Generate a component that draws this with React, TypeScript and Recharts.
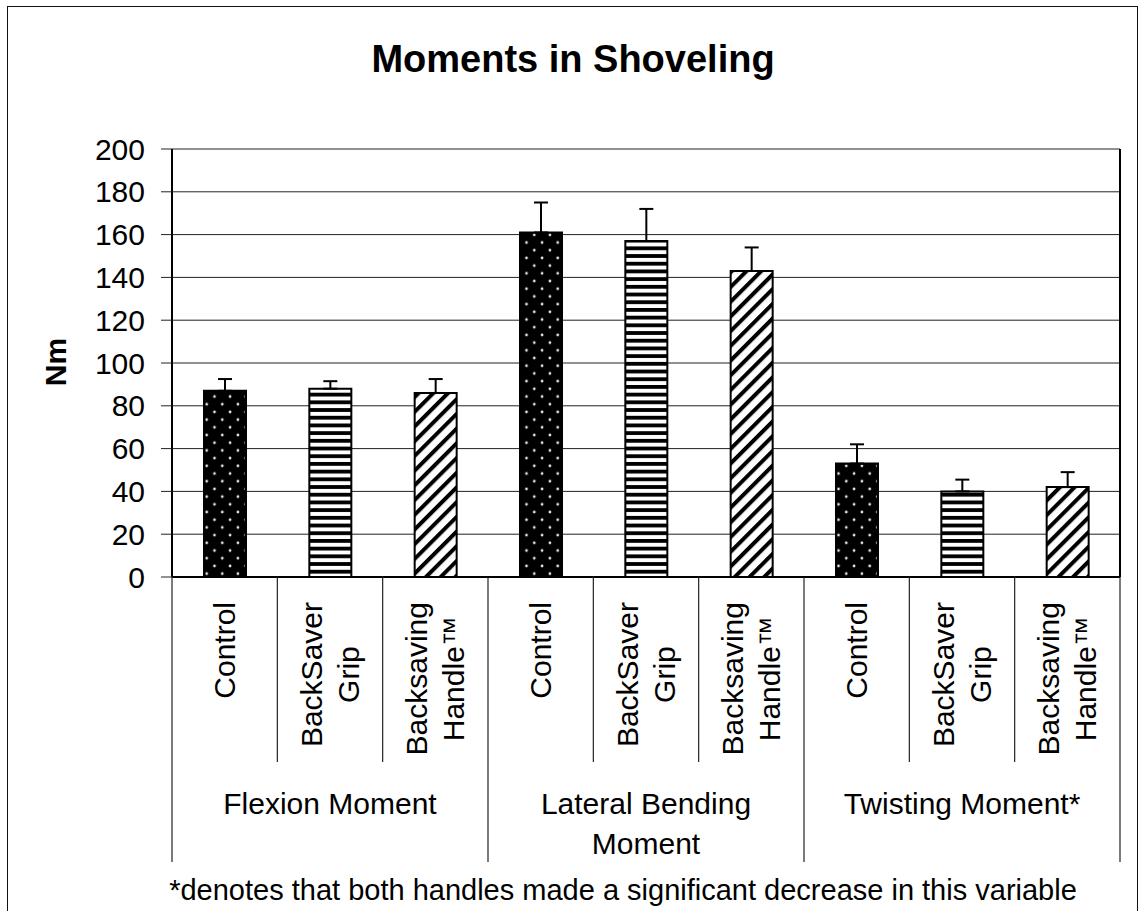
import { Bar, BarChart, CartesianGrid, Cell, ErrorBar, XAxis, YAxis } from "recharts";

// values (Nm)
const groups = [["Flexion Moment"], ["Lateral Bending", "Moment"], ["Twisting Moment*"]];
const conditions = [["Control"], ["BackSaver", "Grip"], ["Backsaving", "Handle™"]];
const flexionMean = [87, 88, 86];
const flexionErr = [5.5, 3.5, 6.5];
const lateralMean = [161, 157, 143];
const lateralErr = [14, 15, 11];
const twistingMean = [53, 40, 42];
const twistingErr = [9, 5.5, 7];
const yTicks = [0, 20, 40, 60, 80, 100, 120, 140, 160, 180, 200];
const patterns = ["url(#dots)", "url(#hstripes)", "url(#diag)"];

const W = 1139;
const H = 911;
const PLOT_LEFT = 172;
const PLOT_RIGHT = 1120;
const PLOT_TOP = 149;
const PLOT_BOTTOM = 577;
const FONT = "'Liberation Sans', Arial, sans-serif";
const LABEL_SIZE = 30;

const means = [flexionMean, lateralMean, twistingMean];
const errs = [flexionErr, lateralErr, twistingErr];

const rows = groups.flatMap((g, gi) =>
  conditions.map((c, ci) => ({
    key: `${g.join(" ")}|${c.join(" ")}`,
    group: gi,
    cond: ci,
    value: means[gi][ci],
    err: [0, errs[gi][ci]],
  }))
);

const BAND = (PLOT_RIGHT - PLOT_LEFT) / rows.length;

let ctx: CanvasRenderingContext2D | null = null;
function textWidth(s: string) {
  if (!ctx) ctx = document.createElement("canvas").getContext("2d");
  if (!ctx) return s.length * LABEL_SIZE * 0.55;
  ctx.font = `${LABEL_SIZE}px ${FONT}`;
  return ctx.measureText(s).width;
}

function CategoryTick(props: any) {
  const { x, y, payload } = props;
  const i = rows.findIndex((r) => r.key === payload.value);
  if (i < 0) return null;
  const row = rows[i];
  const lines = conditions[row.cond];
  const half = BAND / 2;
  const lastInGroup = row.cond === conditions.length - 1;
  // rotated block: longest line starts 25px below the axis, lines centred on each other
  const longest = Math.max(...lines.map(textWidth));
  const mid = y + 25 + longest / 2;
  return (
    <g>
      {i === 0 && <line x1={x - half} x2={x - half} y1={y} y2={y + 285} stroke="#222" strokeWidth={1.2} />}
      <line
        x1={x + half}
        x2={x + half}
        y1={y}
        y2={lastInGroup ? y + 285 : y + 185}
        stroke="#222"
        strokeWidth={1.2}
      />
      {lines.map((t, li) => {
        const cx = x + (li - (lines.length - 1) / 2) * 37;
        return (
          <text
            key={t}
            x={cx}
            y={mid}
            transform={`rotate(-90, ${cx}, ${mid})`}
            textAnchor="middle"
            dominantBaseline="central"
            fontSize={LABEL_SIZE}
            fill="#000"
          >
            {t}
          </text>
        );
      })}
      {row.cond === 1 &&
        groups[row.group].map((t, li) => (
          <text key={t} x={x} y={y + 226 + li * 40} textAnchor="middle" dominantBaseline="central" fontSize={LABEL_SIZE} fill="#000">
            {t}
          </text>
        ))}
    </g>
  );
}

export default function App() {
  return (
    <div style={{ position: "absolute", left: 0, top: 0, width: W, height: H, overflow: "hidden", background: "#fff", fontFamily: FONT }}>
      <div
        style={{
          position: "absolute",
          left: 7,
          top: 6,
          width: 1129,
          height: 940,
          borderTop: "1.5px solid #111",
          borderLeft: "1.5px solid #111",
          borderRight: "1.5px solid #111",
        }}
      />
      <BarChart
        width={W}
        height={H}
        data={rows}
        margin={{ top: PLOT_TOP, right: W - PLOT_RIGHT - 2, bottom: 0, left: 0 }}
        barSize={42}
        style={{ position: "absolute", left: 0, top: 0 }}
      >
        <defs>
          <pattern id="dots" patternUnits="userSpaceOnUse" width={15.6} height={15.4}>
            <rect width={15.6} height={15.4} fill="#000" />
            <circle cx={3.9} cy={3.85} r={1.35} fill="#eee" />
            <circle cx={11.7} cy={11.55} r={1.35} fill="#eee" />
          </pattern>
          <pattern id="hstripes" patternUnits="userSpaceOnUse" width={10} height={7.7}>
            <rect width={10} height={7.7} fill="#fff" />
            <rect width={10} height={3.8} fill="#000" />
          </pattern>
          <pattern id="diag" patternUnits="userSpaceOnUse" width={10.4} height={10.4} patternTransform="rotate(45)">
            <rect width={10.4} height={10.4} fill="#fff" />
            <rect width={4} height={10.4} fill="#000" />
          </pattern>
        </defs>
        <text x={573} y={72} textAnchor="middle" fontSize={38} fontWeight="bold" fill="#000">
          Moments in Shoveling
        </text>
        <text
          x={55}
          y={362}
          transform="rotate(-90, 55, 362)"
          textAnchor="middle"
          dominantBaseline="central"
          fontSize={30}
          fontWeight="bold"
          fill="#000"
        >
          Nm
        </text>
        <text x={623} y={900} textAnchor="middle" fontSize={29} fill="#000">
          *denotes that both handles made a significant decrease in this variable
        </text>
        <CartesianGrid horizontal vertical={false} stroke="#222" strokeWidth={1} />
        <XAxis
          dataKey="key"
          interval={0}
          height={H - PLOT_BOTTOM}
          tickSize={0}
          tickMargin={0}
          tickLine={false}
          axisLine={{ stroke: "#000", strokeWidth: 2 }}
          tick={<CategoryTick />}
        />
        <YAxis
          width={PLOT_LEFT}
          domain={[0, 200]}
          ticks={yTicks}
          interval={0}
          tickSize={11}
          tickMargin={16}
          tick={{ fill: "#000", fontSize: 30 }}
          tickLine={{ stroke: "#222" }}
          axisLine={{ stroke: "#000", strokeWidth: 2 }}
        />
        <YAxis
          yAxisId="right"
          orientation="right"
          width={2}
          tick={false}
          tickLine={false}
          axisLine={{ stroke: "#000", strokeWidth: 2 }}
        />
        <Bar dataKey="value" stroke="#000" strokeWidth={2} isAnimationActive={false}>
          {rows.map((r) => (
            <Cell key={r.key} fill={patterns[r.cond]} />
          ))}
          <ErrorBar dataKey="err" width={7} stroke="#000" strokeWidth={2} isAnimationActive={false} />
        </Bar>
      </BarChart>
    </div>
  );
}
